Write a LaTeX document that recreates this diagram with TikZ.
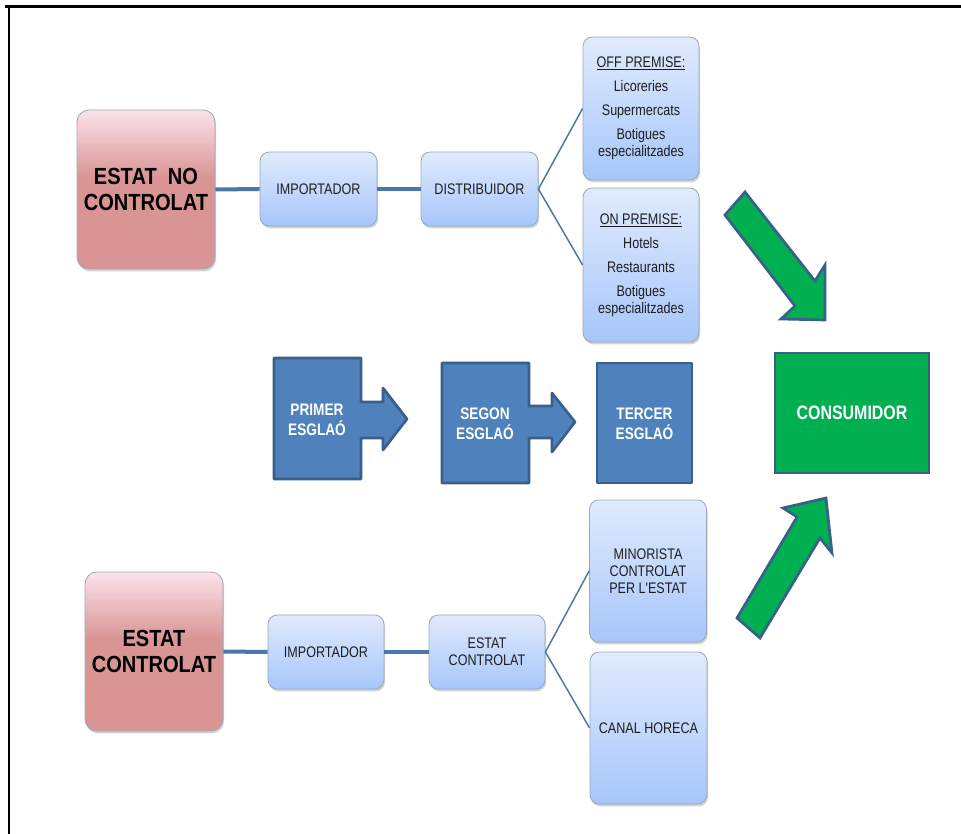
\documentclass[tikz,border=0pt]{standalone}
\usepackage{fontspec}
\newfontfamily\nf[FakeStretch=0.82]{Liberation Sans}
\newfontfamily\bnf[FakeStretch=0.86]{Liberation Sans}
\usetikzlibrary{shadows}
\definecolor{bluetop}{HTML}{E0EBFD}
\definecolor{bluebot}{HTML}{A6C6FB}
\definecolor{redtop}{HTML}{FBE3EC}
\definecolor{redmid}{HTML}{D99594}
\definecolor{stepblue}{HTML}{4F81BD}
\definecolor{stepedge}{HTML}{3A5F8B}
\definecolor{conn}{HTML}{4A76A8}
\definecolor{grn}{HTML}{00B050}
\definecolor{boxedge}{HTML}{9CA6B6}
\definecolor{txt}{HTML}{1E1E1E}
\pgfdeclareverticalshading{redshade}{100bp}{color(0bp)=(redmid); color(25bp)=(redmid); color(54bp)=(redmid); color(75bp)=(redtop); color(100bp)=(redtop)}
\tikzset{
  lightbox/.style={rounded corners=7pt, draw=boxedge, line width=0.6pt,
    top color=bluetop, bottom color=bluebot, inner sep=0pt, align=center,
    text=txt, font=\nf\fontsize{11.5pt}{12.6pt}\selectfont,
    drop shadow={shadow xshift=0.8pt, shadow yshift=-1.8pt, opacity=0.35}},
  redbox/.style={rounded corners=9pt, draw=boxedge, line width=0.6pt,
    shading=redshade,
    inner sep=0pt, align=center, text=black,
    font=\bnf\bfseries\fontsize{17.5pt}{20pt}\selectfont,
    minimum width=103.5pt, minimum height=119.25pt,
    drop shadow={shadow xshift=0.8pt, shadow yshift=-1.8pt, opacity=0.35}},
  stepshape/.style={fill=stepblue, draw=stepedge, line width=2pt, line join=round},
  steptext/.style={text=white, align=center, inner sep=0pt,
    font=\nf\bfseries\fontsize{12.5pt}{15pt}\selectfont},
  greenarrow/.style={fill=grn, draw=stepedge, line width=2pt, line join=miter},
  thickconn/.style={draw=conn, line width=3pt},
  thinconn/.style={draw=conn, line width=1.1pt},
}
\begin{document}
\begin{tikzpicture}[x=0.75pt,y=-0.75pt]
\useasboundingbox (0,0) rectangle (961,834);
\fill[white] (0,0) rectangle (961,834);
% frame
\draw[line width=1.9pt] (5,6.5) -- (961,6.5);
\draw[line width=1.6pt] (9,5.5) -- (9,834);

% top row
\node[redbox] (red1) at (146,189.5) {ESTAT~ NO\\CONTROLAT};
\node[lightbox, minimum width=87.75pt, minimum height=55.5pt] (imp1) at (318.5,189) {IMPORTADOR};
\node[lightbox, minimum width=87.75pt, minimum height=55.5pt] (dist) at (479.5,189) {DISTRIBUIDOR};
\node[lightbox, minimum width=87pt, minimum height=107.25pt,
      font=\nf\fontsize{11.5pt}{12.75pt}\selectfont] (off) at (641,108.5)
  {\underline{OFF PREMISE:}\\[5.3pt]Licoreries\\[5.3pt]Supermercats\\[5.3pt]Botigues\\especialitzades};
\node[lightbox, minimum width=87pt, minimum height=115.5pt,
      font=\nf\fontsize{11.5pt}{12.75pt}\selectfont] (on) at (641,265)
  {\underline{ON PREMISE:}\\[5.3pt]Hotels\\[5.3pt]Restaurants\\[5.3pt]Botigues\\especialitzades};

\draw[thickconn] (red1.east) -- (imp1.west);
\draw[thickconn] (imp1.east) -- (dist.west);
\draw[thinconn] (dist.east) -- (off.west);
\draw[thinconn] (dist.east) -- (on.west);

% bottom row
\node[redbox] (red2) at (154,651.5) {ESTAT\\CONTROLAT};
\node[lightbox, minimum width=87pt, minimum height=55.5pt] (imp2) at (326,652) {IMPORTADOR};
\node[lightbox, minimum width=87pt, minimum height=55.5pt] (estc) at (487,652) {ESTAT\\CONTROLAT};
\node[lightbox, minimum width=87.75pt, minimum height=106.5pt] (mino) at (648,571) {MINORISTA\\CONTROLAT\\PER L'ESTAT};
\node[lightbox, minimum width=87.75pt, minimum height=114pt] (canal) at (648.5,728) {CANAL HORECA};

\draw[thickconn] (red2.east) -- (imp2.west);
\draw[thickconn] (imp2.east) -- (estc.west);
\draw[thinconn] (estc.east) -- (mino.west);
\draw[thinconn] (estc.east) -- (canal.west);

% steps
\draw[stepshape] (274,358) -- (361,358) -- (361,402) -- (383,402) -- (383,388) -- (407,419)
  -- (383,450) -- (383,438) -- (361,438) -- (361,479) -- (274,479) -- cycle;
\node[steptext] (prim) at (317,420) {PRIMER\\ESGLAÓ};
\draw[stepshape] (442,363) -- (529,363) -- (529,406) -- (552,406) -- (552,393) -- (575,422)
  -- (552,452) -- (552,438) -- (529,438) -- (529,483) -- (442,483) -- cycle;
\node[steptext] (seg) at (485,424) {SEGON\\ESGLAÓ};
\draw[stepshape] (597,363) rectangle (692,483);
\node[steptext] (terc) at (644.5,424) {TERCER\\ESGLAÓ};

% consumer
\node[draw=stepedge, line width=2pt, fill=grn, minimum width=115.5pt, minimum height=90pt,
      text=white, font=\nf\bfseries\fontsize{14.6pt}{17pt}\selectfont] (cons) at (852,413) {CONSUMIDOR};

% green arrows
\draw[greenarrow] (745,192) -- (815,281) -- (825,265) -- (825,320) -- (781,319) -- (795,306) -- (725,215) -- cycle;
\draw[greenarrow] (737,618) -- (797,517) -- (783,508) -- (826,498) -- (832,553) -- (820,538) -- (760,638) -- cycle;
\end{tikzpicture}
\end{document}
